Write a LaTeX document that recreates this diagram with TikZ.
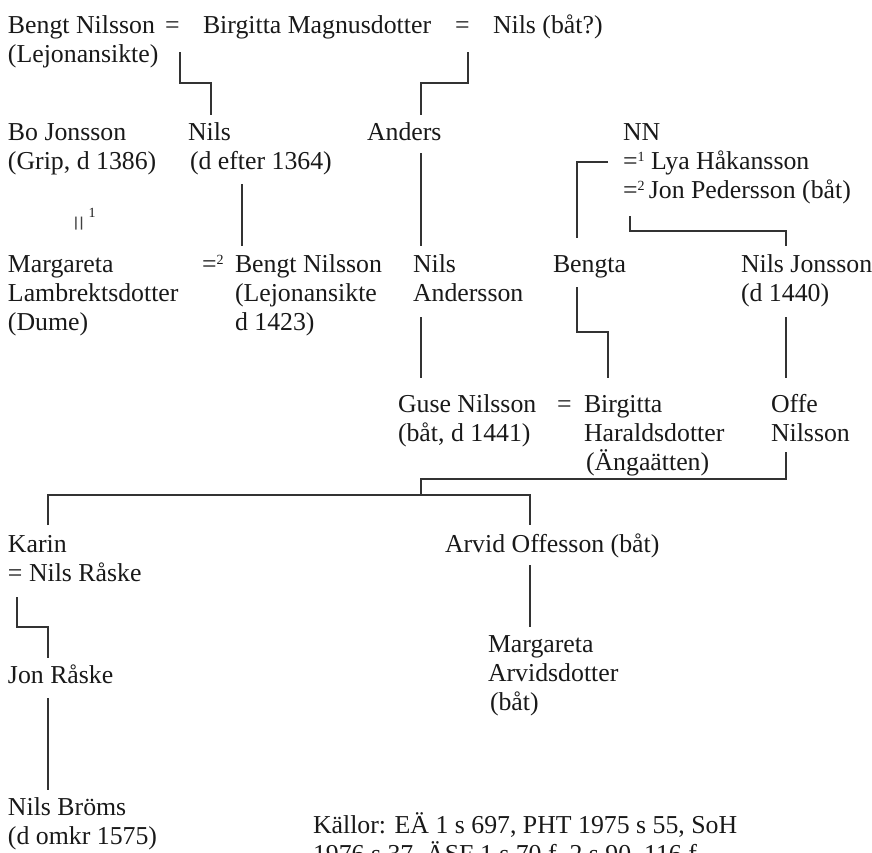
\documentclass[tikz,border=0pt]{standalone}
\usepackage{fontspec}
\setmainfont{Liberation Serif}
\newcommand{\pl}[1]{\begin{tabular}[t]{@{}l@{}}#1\end{tabular}}
\newcommand{\supn}[1]{\raisebox{8pt}[0pt][0pt]{\fontsize{14pt}{14pt}\selectfont #1}}
\begin{document}
\begin{tikzpicture}[x=1pt,y=-1pt,
  person/.style={anchor=base west,inner sep=0pt,outer sep=0pt,text=black!90,
    font=\fontsize{25.8pt}{29pt}\selectfont},
  lnk/.style={line width=1.2pt,draw=black!80}]
\useasboundingbox (0,0) rectangle (872,852);
% row 1
\node[person] (bn1) at (8,33) {\pl{Bengt Nilsson\\(Lejonansikte)}};
\node[person] (eq1) at (165,33) {=};
\node[person] (bm) at (203,33) {Birgitta Magnusdotter};
\node[person] (eq2) at (455,33) {=};
\node[person] (nb) at (493,33) {Nils (båt?)};
% row 2
\node[person] (bo) at (8,140) {\pl{Bo Jonsson\\(Grip, d 1386)}};
\node[person] (nils) at (188,140) {\pl{Nils\\\hspace{2pt}(d efter 1364)}};
\node[person] (anders) at (367,140) {Anders};
\node[person] (nn) at (623,140) {\pl{NN\\=\supn{1} Lya Håkansson\\=\supn{2}\,Jon Pedersson (båt)}};
\node[inner sep=0pt,rotate=90,text=black!75,font=\fontsize{28pt}{28pt}\selectfont] (m1) at (82,224) {=};
\node[inner sep=0pt,text=black!90,font=\fontsize{14pt}{14pt}\selectfont] (m1s) at (92,213) {1};
% row 4
\node[person] (marg) at (8,272) {\pl{Margareta\\Lambrektsdotter\\(Dume)}};
\node[person] (eq3) at (202,272) {=\supn{2}};
\node[person] (bn2) at (235,272) {\pl{Bengt Nilsson\\(Lejonansikte\\d 1423)}};
\node[person] (na) at (413,272) {\pl{Nils\\Andersson}};
\node[person] (bengta) at (553,272) {Bengta};
\node[person] (nj) at (741,272) {\pl{Nils Jonsson\\(d 1440)}};
% row 5
\node[person] (guse) at (398,412) {\pl{Guse Nilsson\\(båt, d 1441)}};
\node[person] (eq4) at (557,412) {=};
\node[person] (bh) at (584,412) {\pl{Birgitta\\Haraldsdotter\\\hspace{2pt}(Ängaätten)}};
\node[person] (offe) at (771,412) {\pl{Offe\\Nilsson}};
% row 6
\node[person] (karin) at (8,552) {\pl{Karin\\= Nils Råske}};
\node[person] (arvid) at (445,552) {Arvid Offesson (båt)};
% row 7
\node[person] (jon) at (8,683) {Jon Råske};
\node[person] (ma) at (488,652) {\pl{Margareta\\Arvidsdotter\\\hspace{2pt}(båt)}};
% row 8
\node[person] (nbr) at (8,815) {\pl{Nils Bröms\\(d omkr 1575)}};
\node[person] (src) at (313,833) {\pl{Källor: EÄ 1 s 697, PHT 1975 s 55, SoH\\1976 s 37, ÄSF 1 s 70 f, 2 s 90, 116 f}};
% connector coordinates
\coordinate (a1) at (180,52); \coordinate (a2) at (211,83); \coordinate (a3) at (211,115);
\coordinate (b1) at (468,52); \coordinate (b2) at (421,83); \coordinate (b3) at (421,115);
\coordinate (c1) at (242,184); \coordinate (c2) at (242,246);
\coordinate (d1) at (421,153); \coordinate (d2) at (421,246);
\coordinate (e1) at (608,162); \coordinate (e2) at (577,238);
\coordinate (f1) at (630,216); \coordinate (f2) at (786,231); \coordinate (f3) at (786,246);
\coordinate (g1) at (421,317); \coordinate (g2) at (421,378);
\coordinate (h1) at (577,287); \coordinate (h2) at (608,332); \coordinate (h3) at (608,378);
\coordinate (i1) at (786,317); \coordinate (i2) at (786,378);
\coordinate (j1) at (786,452); \coordinate (j2) at (421,479); \coordinate (j3) at (421,495);
\coordinate (k1) at (48,525); \coordinate (k2) at (530,525);
\coordinate (l1) at (17,597); \coordinate (l2) at (48,627); \coordinate (l3) at (48,658);
\coordinate (m1a) at (530,565); \coordinate (m2a) at (530,627);
\coordinate (n1) at (48,698); \coordinate (n2) at (48,790);
% connectors
\draw[lnk] (a1) |- (a2) -- (a3);
\draw[lnk] (b1) |- (b2) -- (b3);
\draw[lnk] (c1) -- (c2);
\draw[lnk] (d1) -- (d2);
\draw[lnk] (e1) -| (e2);
\draw[lnk] (f1) |- (f2) -- (f3);
\draw[lnk] (g1) -- (g2);
\draw[lnk] (h1) |- (h2) -- (h3);
\draw[lnk] (i1) -- (i2);
\draw[lnk] (j1) |- (j2) -- (j3);
\draw[lnk] (k1) |- (j3) -| (k2);
\draw[lnk] (l1) |- (l2) -- (l3);
\draw[lnk] (m1a) -- (m2a);
\draw[lnk] (n1) -- (n2);
\end{tikzpicture}
\end{document}
